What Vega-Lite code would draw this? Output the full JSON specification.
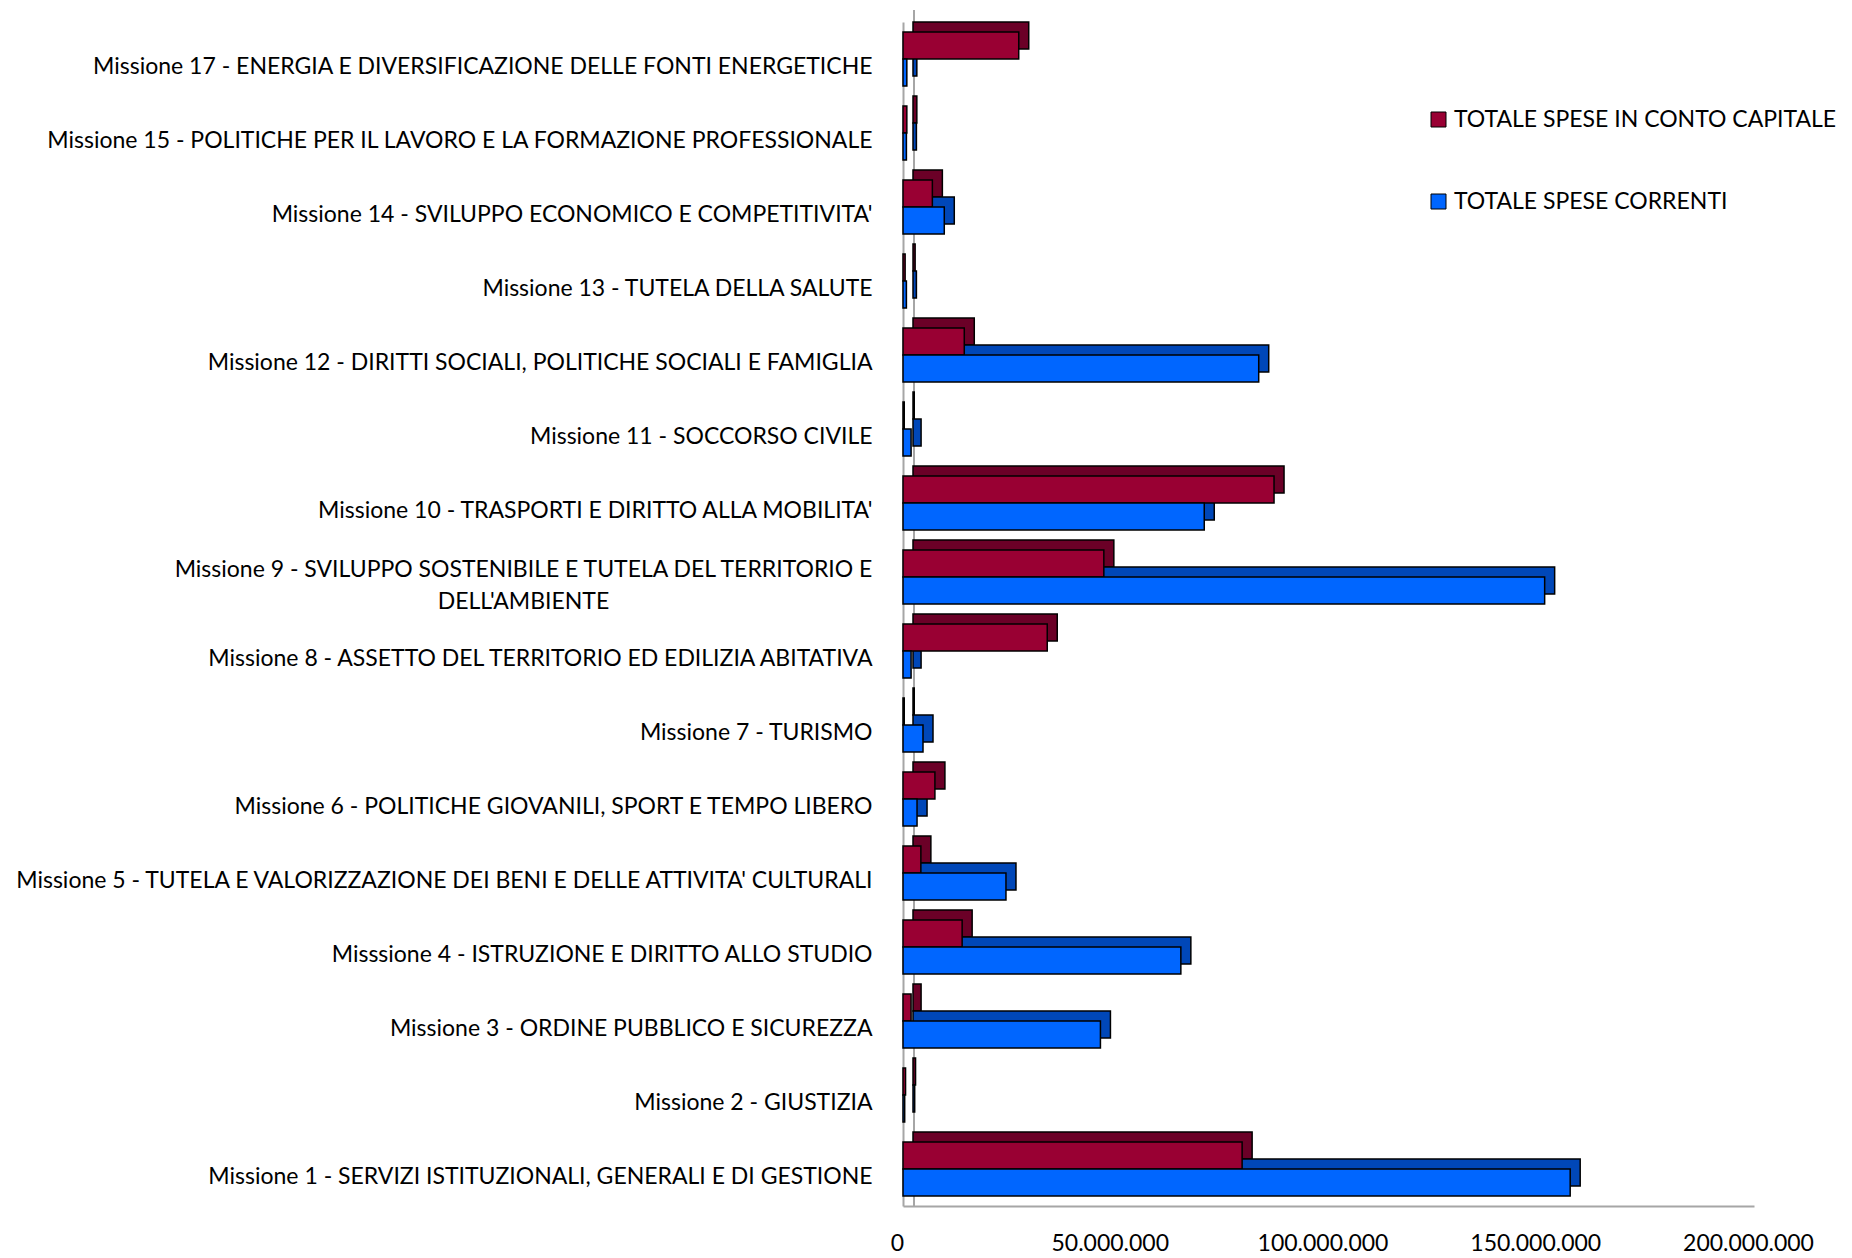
{
  "$schema": "https://vega.github.io/schema/vega-lite/v6.json",
  "autosize": {"type": "none"},
  "width": 851,
  "height": 1184,
  "padding": {"left": 903, "top": 22, "right": 98, "bottom": 52},
  "background": "white",
  "config": {
    "view": {"stroke": null},
    "font": "Lato",
    "locale": {"number": {"decimal": ",", "thousands": ".", "grouping": [3], "currency": ["€", ""]}}
  },
  "data": {"values": [
    {"missione": "Missione 17 - ENERGIA E DIVERSIFICAZIONE DELLE FONTI ENERGETICHE", "serie": "TOTALE SPESE IN CONTO CAPITALE", "valore": 27200000},
    {"missione": "Missione 17 - ENERGIA E DIVERSIFICAZIONE DELLE FONTI ENERGETICHE", "serie": "TOTALE SPESE CORRENTI", "valore": 900000},
    {"missione": "Missione 15 - POLITICHE PER IL LAVORO E LA FORMAZIONE PROFESSIONALE", "serie": "TOTALE SPESE IN CONTO CAPITALE", "valore": 900000},
    {"missione": "Missione 15 - POLITICHE PER IL LAVORO E LA FORMAZIONE PROFESSIONALE", "serie": "TOTALE SPESE CORRENTI", "valore": 800000},
    {"missione": "Missione 14 - SVILUPPO ECONOMICO E COMPETITIVITA'", "serie": "TOTALE SPESE IN CONTO CAPITALE", "valore": 6900000},
    {"missione": "Missione 14 - SVILUPPO ECONOMICO E COMPETITIVITA'", "serie": "TOTALE SPESE CORRENTI", "valore": 9700000},
    {"missione": "Missione 13 - TUTELA DELLA SALUTE", "serie": "TOTALE SPESE IN CONTO CAPITALE", "valore": 500000},
    {"missione": "Missione 13 - TUTELA DELLA SALUTE", "serie": "TOTALE SPESE CORRENTI", "valore": 800000},
    {"missione": "Missione 12 - DIRITTI SOCIALI, POLITICHE SOCIALI E FAMIGLIA", "serie": "TOTALE SPESE IN CONTO CAPITALE", "valore": 14400000},
    {"missione": "Missione 12 - DIRITTI SOCIALI, POLITICHE SOCIALI E FAMIGLIA", "serie": "TOTALE SPESE CORRENTI", "valore": 83600000},
    {"missione": "Missione 11 - SOCCORSO CIVILE", "serie": "TOTALE SPESE IN CONTO CAPITALE", "valore": 300000},
    {"missione": "Missione 11 - SOCCORSO CIVILE", "serie": "TOTALE SPESE CORRENTI", "valore": 1900000},
    {"missione": "Missione 10 - TRASPORTI E DIRITTO ALLA MOBILITA'", "serie": "TOTALE SPESE IN CONTO CAPITALE", "valore": 87200000},
    {"missione": "Missione 10 - TRASPORTI E DIRITTO ALLA MOBILITA'", "serie": "TOTALE SPESE CORRENTI", "valore": 70800000},
    {"missione": "Missione 9 - SVILUPPO SOSTENIBILE E TUTELA DEL TERRITORIO E DELL'AMBIENTE", "serie": "TOTALE SPESE IN CONTO CAPITALE", "valore": 47200000},
    {"missione": "Missione 9 - SVILUPPO SOSTENIBILE E TUTELA DEL TERRITORIO E DELL'AMBIENTE", "serie": "TOTALE SPESE CORRENTI", "valore": 150800000},
    {"missione": "Missione 8 - ASSETTO DEL TERRITORIO ED EDILIZIA ABITATIVA", "serie": "TOTALE SPESE IN CONTO CAPITALE", "valore": 33900000},
    {"missione": "Missione 8 - ASSETTO DEL TERRITORIO ED EDILIZIA ABITATIVA", "serie": "TOTALE SPESE CORRENTI", "valore": 1900000},
    {"missione": "Missione 7 - TURISMO", "serie": "TOTALE SPESE IN CONTO CAPITALE", "valore": 300000},
    {"missione": "Missione 7 - TURISMO", "serie": "TOTALE SPESE CORRENTI", "valore": 4700000},
    {"missione": "Missione 6 - POLITICHE GIOVANILI, SPORT E TEMPO LIBERO", "serie": "TOTALE SPESE IN CONTO CAPITALE", "valore": 7500000},
    {"missione": "Missione 6 - POLITICHE GIOVANILI, SPORT E TEMPO LIBERO", "serie": "TOTALE SPESE CORRENTI", "valore": 3300000},
    {"missione": "Missione 5 - TUTELA E VALORIZZAZIONE DEI BENI E DELLE ATTIVITA' CULTURALI", "serie": "TOTALE SPESE IN CONTO CAPITALE", "valore": 4200000},
    {"missione": "Missione 5 - TUTELA E VALORIZZAZIONE DEI BENI E DELLE ATTIVITA' CULTURALI", "serie": "TOTALE SPESE CORRENTI", "valore": 24200000},
    {"missione": "Misssione 4 - ISTRUZIONE E DIRITTO ALLO STUDIO", "serie": "TOTALE SPESE IN CONTO CAPITALE", "valore": 13900000},
    {"missione": "Misssione 4 - ISTRUZIONE E DIRITTO ALLO STUDIO", "serie": "TOTALE SPESE CORRENTI", "valore": 65300000},
    {"missione": "Missione 3 - ORDINE PUBBLICO E SICUREZZA", "serie": "TOTALE SPESE IN CONTO CAPITALE", "valore": 1900000},
    {"missione": "Missione 3 - ORDINE PUBBLICO E SICUREZZA", "serie": "TOTALE SPESE CORRENTI", "valore": 46400000},
    {"missione": "Missione 2 - GIUSTIZIA", "serie": "TOTALE SPESE IN CONTO CAPITALE", "valore": 600000},
    {"missione": "Missione 2 - GIUSTIZIA", "serie": "TOTALE SPESE CORRENTI", "valore": 400000},
    {"missione": "Missione 1 - SERVIZI ISTITUZIONALI, GENERALI E DI GESTIONE", "serie": "TOTALE SPESE IN CONTO CAPITALE", "valore": 79700000},
    {"missione": "Missione 1 - SERVIZI ISTITUZIONALI, GENERALI E DI GESTIONE", "serie": "TOTALE SPESE CORRENTI", "valore": 156800000}
  ]},
  "encoding": {
    "yOffset": {"field": "serie", "type": "nominal", "sort": ["TOTALE SPESE IN CONTO CAPITALE", "TOTALE SPESE CORRENTI"]},
    "x": {
      "field": "valore", "type": "quantitative",
      "scale": {"domain": [0, 200000000]},
      "axis": {
        "title": null, "values": [0, 50000000, 100000000, 150000000, 200000000], "format": ",d",
        "ticks": false, "grid": false, "domainColor": "#A6A6A6", "domainWidth": 2,
        "labelFontSize": 23, "labelColor": "#000000", "labelPadding": 26, "labelOffset": -6,
        "labelFlush": false
      }
    }
  },
  "layer": [
    {
      "mark": {"type": "rule", "color": "#A6A6A6", "strokeWidth": 2, "xOffset": 11, "yOffset": -12},
      "encoding": {"x": {"datum": 0}, "yOffset": null}
    },
    {
      "mark": {"type": "bar", "xOffset": 10, "x2Offset": 10, "stroke": "#000000", "strokeWidth": 1.5},
      "encoding": {
        "y": {"field": "missione", "type": "nominal", "sort": null, "axis": null,
          "scale": {"paddingInner": 0.27, "paddingOuter": 0.135, "align": 0}},
        "color": {"field": "serie", "type": "nominal", "legend": null,
          "scale": {"domain": ["TOTALE SPESE IN CONTO CAPITALE", "TOTALE SPESE CORRENTI"], "range": ["#6B0027", "#0047B8"]}}
      }
    },
    {
      "mark": {"type": "bar", "stroke": "#000000", "strokeWidth": 1.5},
      "encoding": {
        "y": {
          "field": "missione", "type": "nominal", "sort": null,
          "scale": {"paddingInner": 0.27, "paddingOuter": 0.135, "align": 0.5},
          "axis": {
            "title": null, "ticks": false, "domainColor": "#A6A6A6", "domainWidth": 2,
            "labelFontSize": 23, "labelColor": "#000000", "labelLimit": 900, "labelLineHeight": 32,
            "labelOffset": {"condition": {"test": "indexof(datum.value, 'Missione 9 ') == 0", "value": -7}, "value": 8},
            "labelAlign": {"condition": {"test": "indexof(datum.value, 'Missione 9 ') == 0", "value": "center"}, "value": "right"},
            "labelPadding": {"condition": {"test": "indexof(datum.value, 'Missione 9 ') == 0", "value": 380}, "value": 31},
            "labelExpr": "indexof(datum.value, 'Missione 9 ') == 0 ? ['Missione 9 - SVILUPPO SOSTENIBILE E TUTELA DEL TERRITORIO E', \"DELL'AMBIENTE\"] : datum.label"
          }
        },
        "color": {"field": "serie", "type": "nominal",
          "scale": {"domain": ["TOTALE SPESE IN CONTO CAPITALE", "TOTALE SPESE CORRENTI"], "range": ["#990033", "#0066FF"]},
          "legend": {"title": null, "orient": "none", "legendX": 524, "legendY": 86, "direction": "vertical",
            "symbolType": "square", "symbolSize": 225, "symbolStrokeColor": "#000000", "symbolStrokeWidth": 1,
            "labelFontSize": 23, "labelColor": "#000000", "rowPadding": 58, "labelLimit": 500, "labelOffset": 4}
        }
      }
    }
  ],
  "resolve": {"scale": {"y": "independent", "color": "independent"}, "legend": {"color": "independent"}}
}
